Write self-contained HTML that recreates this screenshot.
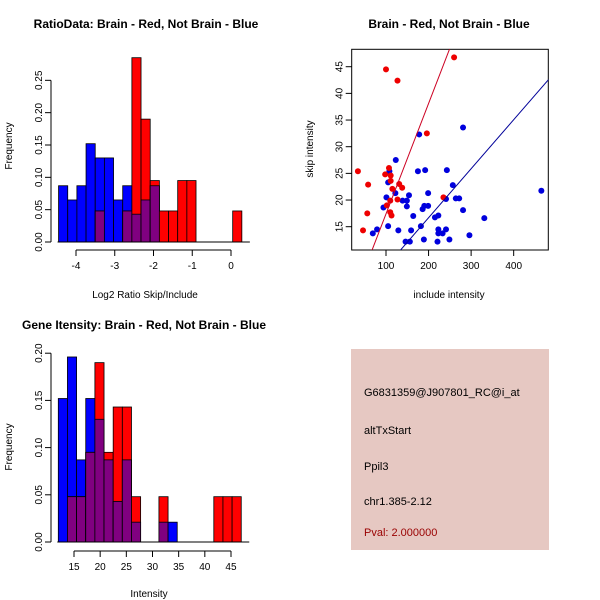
<!DOCTYPE html>
<html><head><meta charset="utf-8"><style>
body{margin:0;background:#fff}
svg{display:block;font-family:"Liberation Sans",sans-serif}
</style></head><body>
<svg id="c" width="600" height="600" viewBox="0 0 600 600">
<rect width="600" height="600" fill="#fff"/>
<text x="146" y="28" font-size="12" font-weight="bold" text-anchor="middle">RatioData: Brain - Red, Not Brain - Blue</text>
<text x="449" y="28" font-size="12" font-weight="bold" text-anchor="middle">Brain - Red, Not Brain - Blue</text>
<text x="144" y="329" font-size="12" font-weight="bold" text-anchor="middle">Gene Itensity: Brain - Red, Not Brain - Blue</text>
<text x="145" y="298" font-size="10" text-anchor="middle">Log2 Ratio Skip/Include</text>
<text x="149" y="597" font-size="10" text-anchor="middle">Intensity</text>
<text x="449" y="298" font-size="10" text-anchor="middle">include intensity</text>
<text transform="translate(12,146) rotate(-90)" font-size="10" text-anchor="middle">Frequency</text>
<text transform="translate(12,447) rotate(-90)" font-size="10" text-anchor="middle">Frequency</text>
<text transform="translate(313,149) rotate(-90)" font-size="10" text-anchor="middle">skip intensity</text>
<g>
<rect x="351" y="349" width="198" height="201" fill="#e6c8c2"/>
<text x="364" y="396" font-size="11">G6831359@J907801_RC@i_at</text>
<text x="364" y="434" font-size="11">altTxStart</text>
<text x="364" y="470" font-size="11">Ppil3</text>
<text x="364" y="505" font-size="11">chr1.385-2.12</text>
<text x="364" y="536" font-size="11" fill="#990000">Pval: 2.000000</text>
</g>
<g id="g1"></g><g id="g2"></g><g id="g3"></g>
</svg>
<script>
// Ratio histogram data
const ratioStart = -4.45, ratioWidth = 0.2365;
const ratioBlue = [0.087,0.065,0.087,0.152,0.13,0.13,0.065,0.087,0.043,0.065,0.087,0,0,0,0,0,0,0,0,0];
const ratioRed  = [0,0,0,0,0.048,0,0,0.048,0.285,0.19,0.095,0.048,0.048,0.095,0.095,0,0,0,0,0.048];
const ratioXTicks = [-4,-3,-2,-1,0];
const ratioYTicks = ["0.00","0.05","0.10","0.15","0.20","0.25"];
// Intensity histogram data
const intStart = 12.0, intWidth = 1.748;
const intBlue = [0.152,0.196,0.087,0.152,0.13,0.087,0.043,0.087,0.021,0,0,0.021,0.021,0,0,0,0,0,0,0];
const intRed  = [0,0.048,0.048,0.095,0.19,0.095,0.143,0.143,0.048,0,0,0.048,0,0,0,0,0,0.048,0.048,0.048];
const intXTicks = [15,20,25,30,35,40,45];
const intYTicks = ["0.00","0.05","0.10","0.15","0.20"];
// Scatter data
const redX = [100,127,260,196,34,58,107,98,111,111,131,138,115,127,110,102,110,113,56,46,235];
const redY = [44.5,42.4,46.75,32.5,25.4,22.9,26,24.8,24.6,23.6,23,22.3,22.1,20.1,19.9,19,17.7,17.1,17.5,14.3,20.5];
const blueX = [178,281,123,108,105,175,192,243,257,465,122,154,199,101,139,149,241,264,272,94,149,186,190,199,281,164,215,223,331,105,182,69,79,129,159,223,241,223,233,296,146,156,189,221,249];
const blueY = [32.3,33.6,27.5,25.4,23.3,25.4,25.6,25.6,22.8,21.75,21.3,20.9,21.3,20.5,19.9,19.9,20.2,20.3,20.3,18.6,18.8,18.3,18.9,18.9,18.1,17,16.75,17.1,16.6,15.1,15.1,13.75,14.5,14.3,14.3,14.5,14.5,13.75,13.75,13.4,12.2,12.2,12.6,12.2,12.6];
const redFit = [-3.3, 0.207];
const blueFit = [-1.7, 0.0919];
const scXTicks = [100,200,300,400];
const scYTicks = [15,20,25,30,35,40,45];

const NS="http://www.w3.org/2000/svg";
function mk(p,t,a){const e=document.createElementNS(NS,t);for(const k in a)e.setAttribute(k,a[k]);p.appendChild(e);return e;}

function hist(g,start,w,blue,red,xs,ys,xt,yt,axisY,axisXline,tickStr){
  blue.forEach((v,i)=>{
    const x0=xs(start+i*w),x1=xs(start+(i+1)*w);
    const m=Math.min(v,red[i]);
    if(v>0){const r=mk(g,'rect',{x:x0,y:ys(v),width:x1-x0,height:ys(0)-ys(v),fill:'#0000ff',stroke:'#000','stroke-width':0.8});
      
      }
    if(red[i]>0){const r=mk(g,'rect',{x:x0,y:ys(red[i]),width:x1-x0,height:ys(0)-ys(red[i]),fill:'#ff0000',stroke:'#000','stroke-width':0.8});
      
      }
    if(m>0){const r=mk(g,'rect',{x:x0,y:ys(m),width:x1-x0,height:ys(0)-ys(m),fill:'#800080',stroke:'#000','stroke-width':0.8});
      
      }
  });
  mk(g,'line',{x1:xs(start)-1,x2:xs(start+blue.length*w)+8,y1:ys(0),y2:ys(0),stroke:'#000'});
  mk(g,'line',{x1:axisY,x2:axisY,y1:ys(0),y2:ys(parseFloat(yt[yt.length-1])),stroke:'#000'});
  yt.forEach(t=>{const y=ys(parseFloat(t));mk(g,'line',{x1:axisY,x2:axisY-6,y1:y,y2:y,stroke:'#000'});
    const tx=mk(g,'text',{transform:`translate(${axisY-9},${y}) rotate(-90)`,'font-size':10,'text-anchor':'middle'});tx.textContent=t;
    
    });
  mk(g,'line',{x1:xs(xt[0]),x2:xs(xt[xt.length-1]),y1:axisXline,y2:axisXline,stroke:'#000'});
  xt.forEach(t=>{const x=xs(t);mk(g,'line',{x1:x,x2:x,y1:axisXline,y2:axisXline+6,stroke:'#000'});
    const tx=mk(g,'text',{x:x,y:axisXline+19,'font-size':10,'text-anchor':'middle'});tx.textContent=tickStr(t);
    
    });
}
const g1=document.getElementById('g1');


hist(g1,ratioStart,ratioWidth,ratioBlue,ratioRed,
  v=>231+v*38.75, v=>242-v*646.7, ratioXTicks, ratioYTicks, 51, 250, t=>String(t));
const g2=document.getElementById('g2');


hist(g2,intStart,intWidth,intBlue,intRed,
  v=>74+(v-15)*5.233, v=>542-v*944, intXTicks, intYTicks, 51, 551, t=>String(t));

const g3=document.getElementById('g3');


const sx=v=>386+(v-100)*0.4256, sy=v=>226.7-(v-15)*5.333;
const L=351.7,R=548.3,T=49.3,B=250;
const cp=mk(g3,'clipPath',{id:'cp'});mk(cp,'rect',{x:L,y:T,width:R-L,height:B-T});
mk(g3,'rect',{x:L,y:T,width:R-L,height:B-T,fill:'none',stroke:'#000'});
blueX.forEach((x,i)=>{const c=mk(g3,'circle',{cx:sx(x),cy:sy(blueY[i]),r:3,fill:'#0000dd'});
  
  });
redX.forEach((x,i)=>{const c=mk(g3,'circle',{cx:sx(x),cy:sy(redY[i]),r:3,fill:'#ee0000'});
  
  });
[[redFit,'#cc0022','red-fit-line'],[blueFit,'#000099','blue-fit-line']].forEach(([f,col,n])=>{
  const x0=0,x1=600;
  const l=mk(g3,'line',{x1:sx(x0),y1:sy(f[0]+f[1]*x0),x2:sx(x1),y2:sy(f[0]+f[1]*x1),stroke:col,'stroke-width':1,'clip-path':'url(#cp)'});
  
  });
scXTicks.forEach(t=>{const x=sx(t);mk(g3,'line',{x1:x,x2:x,y1:B,y2:B+6,stroke:'#000'});
  const tx=mk(g3,'text',{x:x,y:B+19,'font-size':10,'text-anchor':'middle'});tx.textContent=t;
  
  });
scYTicks.forEach(t=>{const y=sy(t);mk(g3,'line',{x1:L,x2:L-6,y1:y,y2:y,stroke:'#000'});
  const tx=mk(g3,'text',{transform:`translate(${L-9},${y}) rotate(-90)`,'font-size':10,'text-anchor':'middle'});tx.textContent=t;
  
  });
</script>
</body></html>
